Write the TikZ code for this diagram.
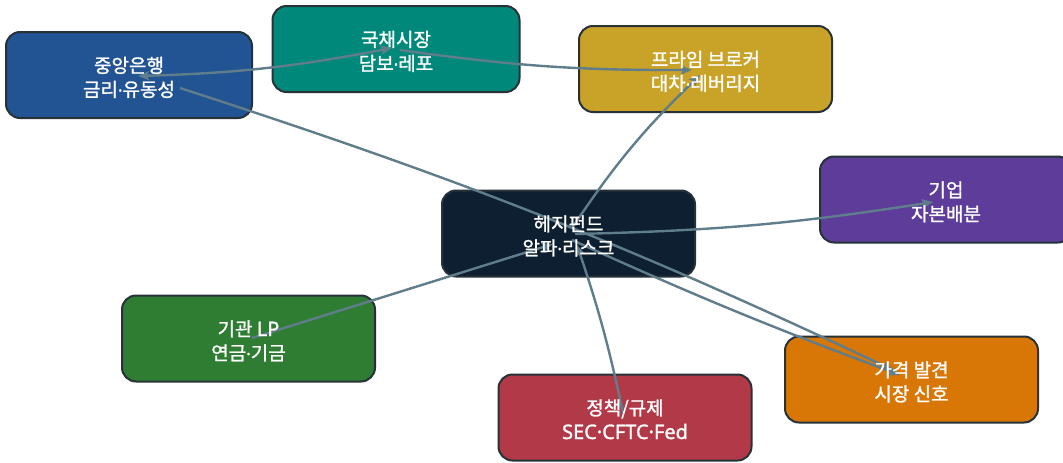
\documentclass[tikz,border=0pt]{standalone}
\usepackage{fontspec}
\newfontfamily\kr[FakeBold=1.3]{Noto Sans CJK KR}
\newfontfamily\lat[FakeBold=1.3]{Noto Sans}
\newcommand\md{{\lat\fontsize{17}{20}\selectfont ·}}
\newcommand\lt[1]{{\lat\fontsize{20}{24}\selectfont #1}}
\newcommand\lblfont{\kr\fontsize{19}{24}\selectfont}
\usetikzlibrary{arrows.meta,calc}
\definecolor{cbc}{RGB}{34,83,146}
\definecolor{bondc}{RGB}{0,137,122}
\definecolor{pbc}{RGB}{201,162,40}
\definecolor{hfc}{RGB}{13,31,48}
\definecolor{corpc}{RGB}{94,60,154}
\definecolor{lpc}{RGB}{46,125,50}
\definecolor{regc}{RGB}{178,58,72}
\definecolor{pricec}{RGB}{217,119,6}
\definecolor{edgec}{RGB}{96,125,139}
\definecolor{bordc}{RGB}{38,50,56}
\newcommand\twolines[3]{%
  \node[lbl] (#1a) at ($(#1)+(0,2.5)$) {#2};
  \node[lbl] (#1b) at ($(#1)+(0,-21.5)$) {#3};}
\begin{document}
\begin{tikzpicture}[x=1pt,y=1pt,
 box/.style={draw=bordc,line width=2pt,rounded corners=14pt,minimum width=253pt,minimum height=86pt,inner sep=0pt},
 lbl/.style={text=white,font=\lblfont,inner sep=0pt,anchor=base},
 edge/.style={draw=edgec,line width=2.4pt,-{Stealth[length=11pt,width=9pt,inset=2pt]}},
 edgeboth/.style={draw=edgec,line width=2.4pt,{Stealth[length=11pt,width=9pt,inset=2pt]}-{Stealth[length=11pt,width=9pt,inset=2pt]}},
]
\useasboundingbox (0,0) rectangle (1063,-463);
\fill[white] (0,0) rectangle (1063,-463);
% boxes
\node[box,fill=cbc,minimum width=246pt] (cb) at (129,-75) {};
\node[box,fill=bondc,minimum width=247pt] (bond) at (396,-49) {};
\node[box,fill=pbc] (pb) at (705.5,-69) {};
\node[box,fill=hfc] (hf) at (568.5,-233.5) {};
\node[box,fill=corpc,minimum width=252pt] (corp) at (946,-199.5) {};
\node[box,fill=lpc] (lp) at (248.5,-338.5) {};
\node[box,fill=regc] (reg) at (625,-417.5) {};
\node[box,fill=pricec] (price) at (911.5,-379.5) {};
% connectors
\draw[edgeboth] ($(cb.center)+(9,-1)$) to[bend right=4.6] ($(bond.center)+(-4,1)$);
\draw[edge] ($(bond.center)+(4,-1)$) to[bend right=4.1] ($(pb.center)+(-13.5,-1)$);
\draw[edge] ($(hf.center)+(3.5,5.5)$) to[bend left=6] ($(pb.center)+(-5.5,-6)$);
\draw[edge] ($(cb.center)+(51,-13)$) to[bend left=3.6] ($(price.center)+(-18.5,9.5)$);
\draw[edge] ($(hf.center)+(3.5,-6.5)$) to[bend right=2] ($(price.center)+(-11.5,4.5)$);
\draw[edge] ($(hf.center)+(6.5,-0.5)$) to[bend right=3.8] ($(corp.center)+(-13,-2.5)$);
\draw[edge] ($(lp.center)+(3.5,0.5)$) -- ($(hf.center)+(-15.5,-10.5)$);
\draw[edge] ($(reg.center)+(-2,4.5)$) to[bend right=3.3] ($(hf.center)+(8.5,-11.5)$);
% labels
\twolines{cb}{중앙은행}{금리\md 유동성}
\twolines{bond}{국채시장}{담보\md 레포}
\twolines{pb}{프라임 브로커}{대차\md 레버리지}
\twolines{hf}{헤지펀드}{알파\md 리스크}
\twolines{corp}{기업}{자본배분}
\twolines{lp}{기관 \lt{LP}}{연금\md 기금}
\twolines{reg}{정책/규제}{\lt{SEC·CFTC·Fed}}
\twolines{price}{가격 발견}{시장 신호}
\end{tikzpicture}
\end{document}
